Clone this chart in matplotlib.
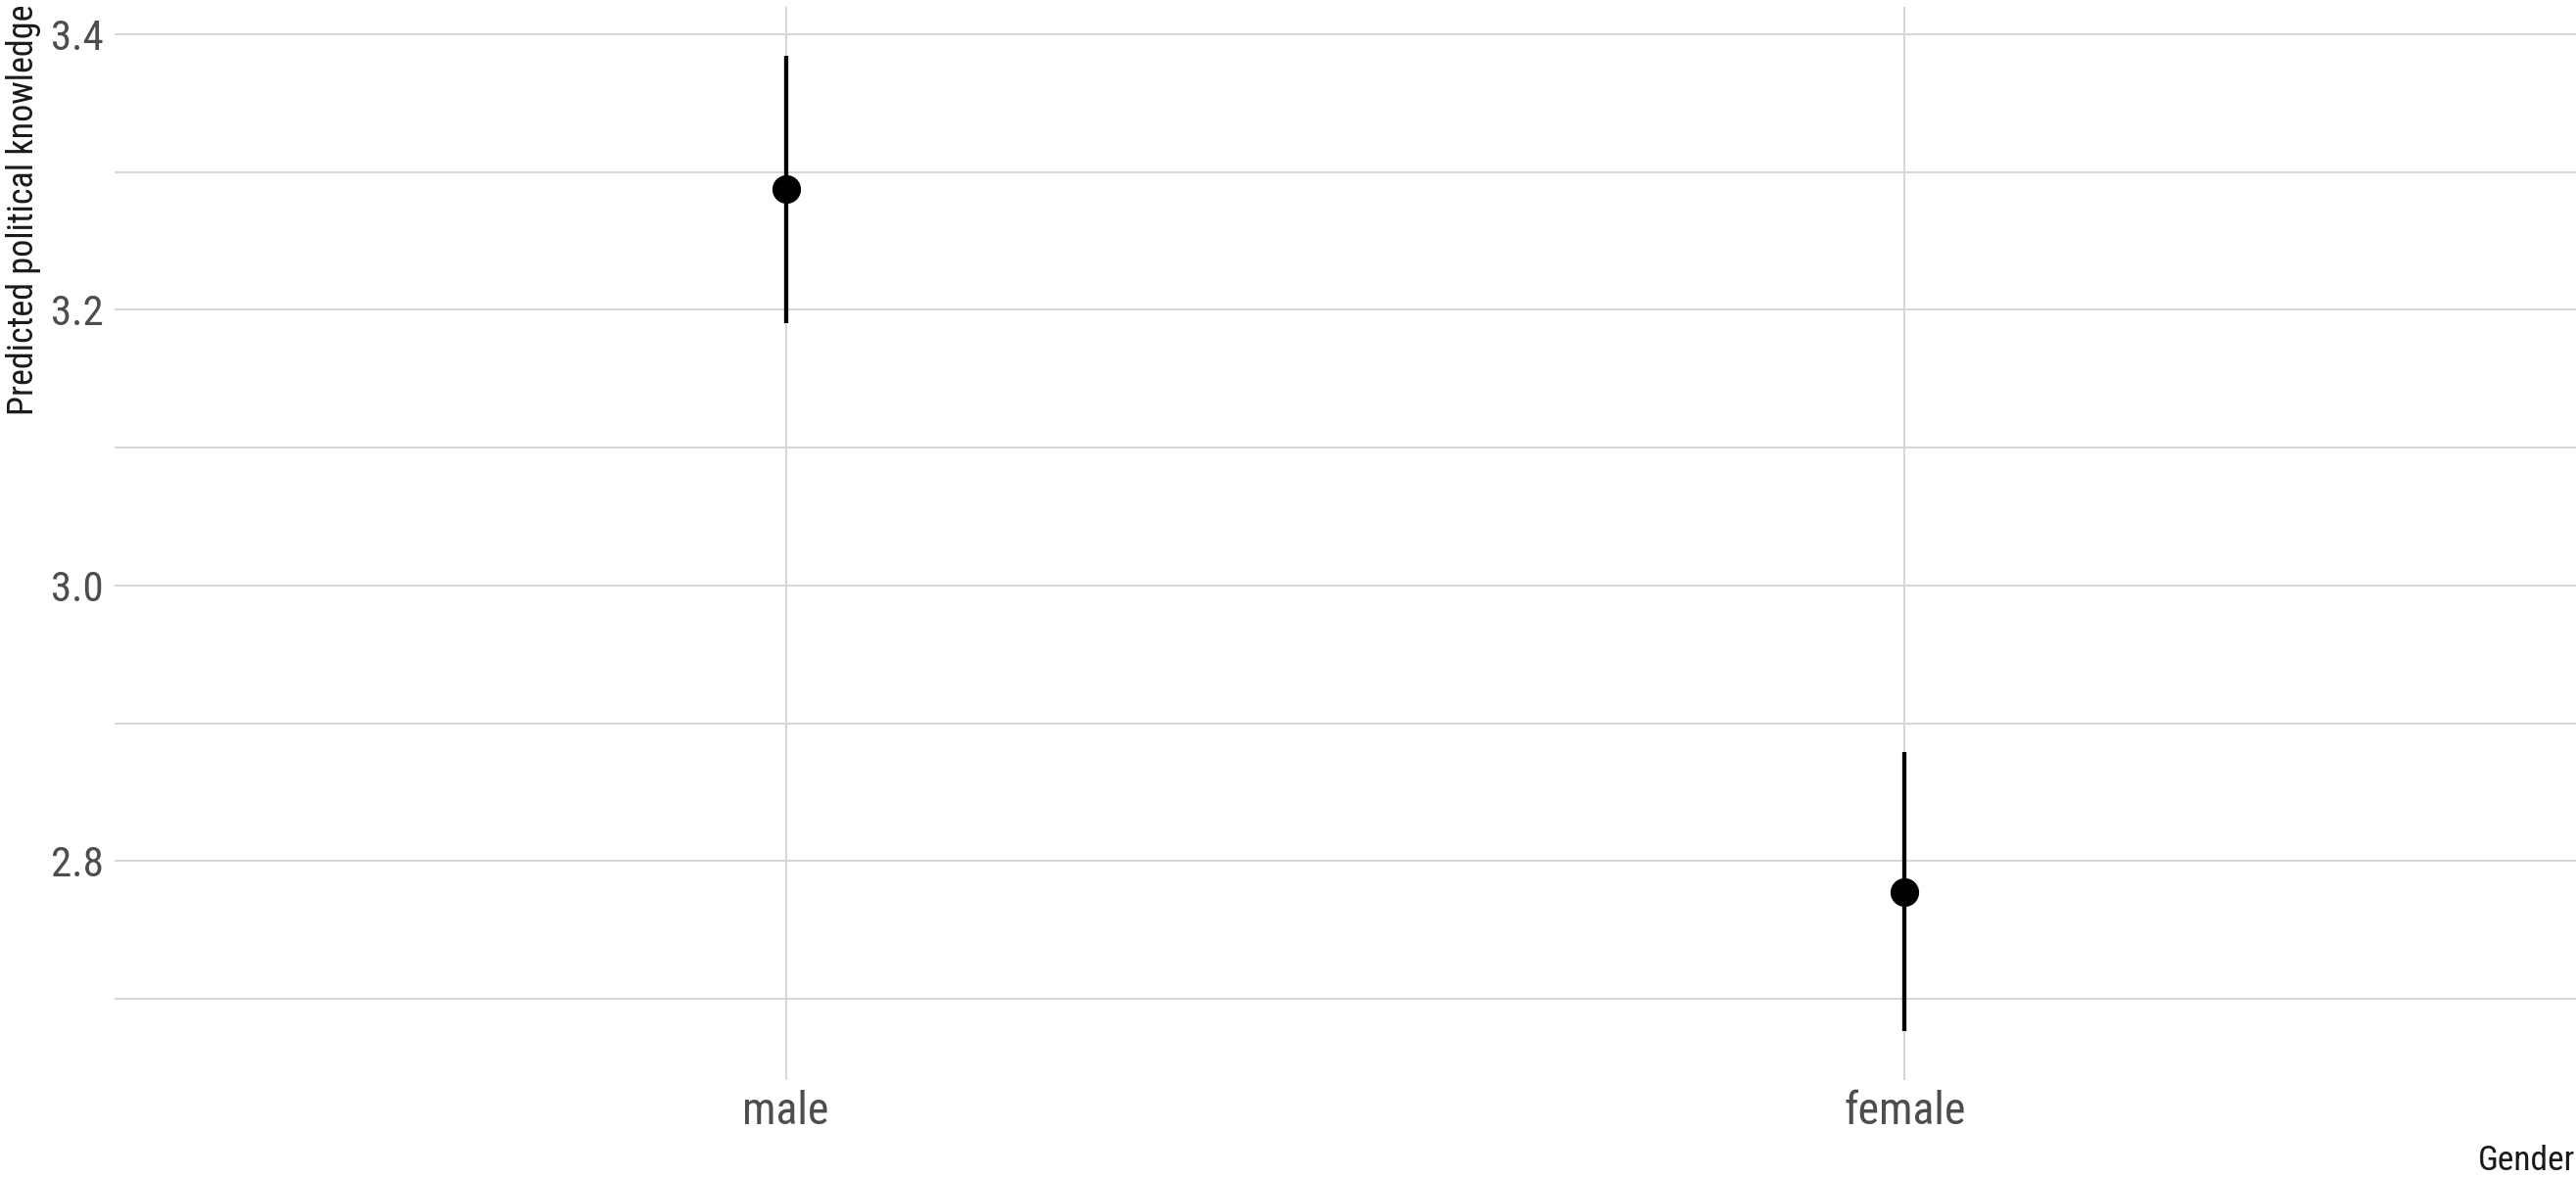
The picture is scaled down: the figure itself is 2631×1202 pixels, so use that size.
import matplotlib
matplotlib.use("Agg")
import matplotlib.pyplot as plt
from matplotlib import font_manager

# Predicted values with confidence bounds by gender
genders = ["male", "female"]
predicted = [3.2878, 2.7777]
lower = [3.1907, 2.6762]
upper = [3.3846, 2.8790]

y_ticks = [2.8, 3.0, 3.2, 3.4]
y_minor = [2.7, 2.9, 3.1, 3.3]

available = {f.name for f in font_manager.fontManager.ttflist}
family = "Roboto Condensed" if "Roboto Condensed" in available else "Roboto"
plt.rcParams["font.family"] = [family, "DejaVu Sans"]

W, H = 2631, 1202
fig = plt.figure(figsize=(W / 100, H / 100), dpi=100)
fig.patch.set_facecolor("white")
ax = fig.add_axes([117 / W, 1 - 1103.3 / H, (W - 117) / W, (1103.3 - 6.9) / H])
ax.set_facecolor("white")

x = list(range(len(genders)))
yerr_lo = [p - l for p, l in zip(predicted, lower)]
yerr_hi = [u - p for p, u in zip(predicted, upper)]
ax.errorbar(x, predicted, yerr=[yerr_lo, yerr_hi], fmt="o", color="black",
            ecolor="black", elinewidth=3.1, capsize=0, markersize=20,
            zorder=3)

# ggplot-style 5% expansion of the data range
span = max(upper) - min(lower)
ax.set_ylim(min(lower) - 0.05 * span, max(upper) + 0.05 * span)
ax.set_xlim(-0.6, len(genders) - 1 + 0.6)

ax.set_xticks(x)
ax.set_xticklabels(genders)
ax.set_yticks(y_ticks)
ax.set_yticklabels([f"{v:.1f}" for v in y_ticks])
ax.set_yticks(y_minor, minor=True)

grid_color = "#d6d6d6"
ax.grid(True, which="major", axis="both", color=grid_color, linewidth=1.4, zorder=0)
ax.grid(True, which="minor", axis="y", color=grid_color, linewidth=1.4, zorder=0)
ax.set_axisbelow(True)

for s in ax.spines.values():
    s.set_visible(False)
ax.tick_params(axis="both", which="both", length=0, labelcolor="#4d4d4d")
ax.tick_params(axis="y", labelsize=31, pad=8)
ax.tick_params(axis="x", labelsize=33, pad=7)

fig.text(1 - 1 / W, 1 - 1195 / H, "Gender", ha="right", va="baseline",
         fontsize=25.5, color="#1a1a1a")
fig.text(6 / W, 1 - 4 / H, "Predicted political knowledge", rotation=90,
         ha="left", va="top", fontsize=26, color="#1a1a1a")

fig.savefig("out.png", dpi=100, facecolor="white")
